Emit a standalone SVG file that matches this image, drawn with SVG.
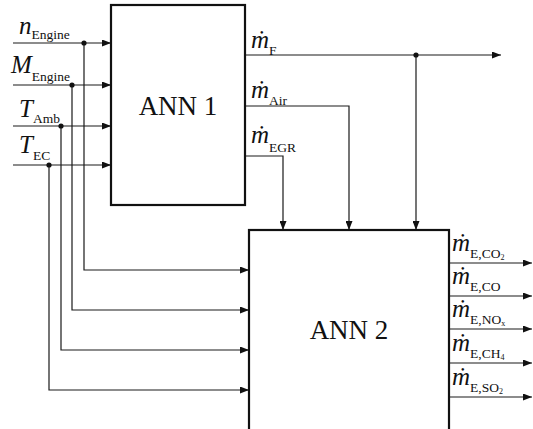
<svg xmlns="http://www.w3.org/2000/svg" width="533" height="429" viewBox="0 0 533 429">
<style>
.ln{fill:none;stroke:#1a1a1a;stroke-width:1.2}
.box{fill:#fff;stroke:#111;stroke-width:2.2}
text{font-family:'Liberation Serif','Times New Roman','DejaVu Serif',serif;fill:#111}
.big{font-size:27px}
.v{font-size:25px;font-style:italic}
.s{font-size:13.5px}
.ss{font-size:8px}
.dot{fill:#111}
</style>
<defs>
<marker id="ar" markerWidth="9" markerHeight="7" refX="9" refY="3.5" orient="auto" markerUnits="userSpaceOnUse">
<path d="M0,0 L9,3.5 L0,7 z" fill="#111"/>
</marker>
</defs>
<rect width="533" height="429" fill="#fff"/>
<g id="connectors">
<path class="ln" marker-end="url(#ar)" d="M13,43 H111"/>
<path class="ln" marker-end="url(#ar)" d="M13,85 H111"/>
<path class="ln" marker-end="url(#ar)" d="M13,126 H111"/>
<path class="ln" marker-end="url(#ar)" d="M13,165 H111"/>
<path class="ln" marker-end="url(#ar)" d="M84,43 V270 H249"/>
<path class="ln" marker-end="url(#ar)" d="M72,85 V310 H249"/>
<path class="ln" marker-end="url(#ar)" d="M61,126 V350 H249"/>
<path class="ln" marker-end="url(#ar)" d="M49,165 V390 H249"/>
<circle class="dot" cx="84" cy="43" r="2.6"/>
<circle class="dot" cx="72" cy="85" r="2.6"/>
<circle class="dot" cx="61" cy="126" r="2.6"/>
<circle class="dot" cx="49" cy="165" r="2.6"/>
<path class="ln" marker-end="url(#ar)" d="M245,55 H501"/>
<path class="ln" marker-end="url(#ar)" d="M416,55 V230"/>
<circle class="dot" cx="416" cy="55" r="2.6"/>
<path class="ln" marker-end="url(#ar)" d="M245,106 H349 V230"/>
<path class="ln" marker-end="url(#ar)" d="M245,156 H283 V230"/>
<path class="ln" marker-end="url(#ar)" d="M449,263 H532"/>
<path class="ln" marker-end="url(#ar)" d="M449,296 H532"/>
<path class="ln" marker-end="url(#ar)" d="M449,329 H532"/>
<path class="ln" marker-end="url(#ar)" d="M449,363 H532"/>
<path class="ln" marker-end="url(#ar)" d="M449,397 H532"/>
</g>
<g id="ann1">
<rect class="box" x="111" y="5" width="134" height="200"/>
<text class="big" x="178" y="115" text-anchor="middle">ANN 1</text>
</g>
<g id="ann2">
<rect class="box" x="249" y="230" width="200" height="215"/>
<text class="big" x="349" y="339" text-anchor="middle">ANN 2</text>
</g>
<g id="input-labels">
<text x="19" y="34"><tspan class="v">n</tspan><tspan class="s" dy="5">Engine</tspan></text>
<text x="11" y="73"><tspan class="v">M</tspan><tspan class="s" dy="8">Engine</tspan></text>
<text x="19" y="117"><tspan class="v">T</tspan><tspan class="s" dy="6">Amb</tspan></text>
<text x="19" y="153"><tspan class="v">T</tspan><tspan class="s" dy="7">EC</tspan></text>
</g>
<g id="ann1-output-labels">
<text x="251" y="48"><tspan class="v">ṁ</tspan><tspan class="s" dy="7">F</tspan></text>
<text x="251" y="98"><tspan class="v">ṁ</tspan><tspan class="s" dy="7">Air</tspan></text>
<text x="251" y="143"><tspan class="v">ṁ</tspan><tspan class="s" dy="9">EGR</tspan></text>
</g>
<g id="ann2-output-labels">
<text x="452" y="251"><tspan class="v">ṁ</tspan><tspan class="s" dy="7">E,CO</tspan><tspan class="ss" dy="2">2</tspan></text>
<text x="452" y="284"><tspan class="v">ṁ</tspan><tspan class="s" dy="7">E,CO</tspan></text>
<text x="452" y="317"><tspan class="v">ṁ</tspan><tspan class="s" dy="7">E,NO</tspan><tspan class="ss" dy="2">x</tspan></text>
<text x="452" y="351"><tspan class="v">ṁ</tspan><tspan class="s" dy="7">E,CH</tspan><tspan class="ss" dy="2">4</tspan></text>
<text x="452" y="385"><tspan class="v">ṁ</tspan><tspan class="s" dy="7">E,SO</tspan><tspan class="ss" dy="2">2</tspan></text>
</g>
</svg>
